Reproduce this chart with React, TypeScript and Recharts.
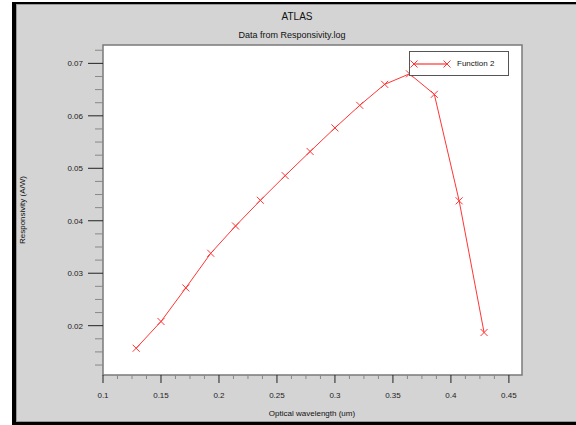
import { Legend, Line, LineChart, ReferenceArea, XAxis, YAxis } from 'recharts'

const wavelength = [0.1286, 0.15, 0.1714, 0.1929, 0.2143, 0.2357, 0.2571, 0.2786, 0.3, 0.3214, 0.3429, 0.3643, 0.3857, 0.4071, 0.4286]
const responsivity = [0.0157, 0.0208, 0.0272, 0.0338, 0.039, 0.0439, 0.0486, 0.0532, 0.0577, 0.062, 0.066, 0.068, 0.0641, 0.0438, 0.0187]

const xMajor = [0.1, 0.15, 0.2, 0.25, 0.3, 0.35, 0.4, 0.45]
const xMinor = [0.1125, 0.125, 0.1375, 0.1625, 0.175, 0.1875, 0.2125, 0.225, 0.2375, 0.2625, 0.275, 0.2875, 0.3125, 0.325, 0.3375, 0.3625, 0.375, 0.3875, 0.4125, 0.425, 0.4375]
const yMajor = [0.02, 0.03, 0.04, 0.05, 0.06, 0.07]
const yMinor = [0.0125, 0.015, 0.0175, 0.0225, 0.025, 0.0275, 0.0325, 0.035, 0.0375, 0.0425, 0.045, 0.0475, 0.0525, 0.055, 0.0575, 0.0625, 0.065, 0.0675, 0.0725]

const xDomain: [number, number] = [0.1, 0.4613]
const yDomain: [number, number] = [0.0106, 0.0735]

const data = wavelength.map((x, i) => ({ x, y: responsivity[i] }))

const FONT = '"Liberation Sans", Arial, sans-serif'
const RED = '#ff3535'

const isMajor = (v: number, majors: number[]) => majors.some((m) => Math.abs(m - v) < 1e-6)

function Cross({ cx, cy, size = 3.5 }: { cx: number; cy: number; size?: number }) {
  return (
    <path
      d={`M${cx - size},${cy - size}L${cx + size},${cy + size}M${cx - size},${cy + size}L${cx + size},${cy - size}`}
      stroke={RED}
      strokeWidth={1}
      fill="none"
    />
  )
}

function XTick({ x, y, payload }: any) {
  const major = isMajor(payload.value, xMajor)
  return (
    <g>
      <line x1={x} x2={x} y1={y} y2={y + (major ? 8 : 4)} stroke={major ? '#222' : '#888'} />
      {major && (
        <text x={x} y={y + 23} textAnchor="middle" fontSize={8} fontFamily={FONT} fill="#222">
          {String(payload.value)}
        </text>
      )}
    </g>
  )
}

function YTick({ x, y, payload }: any) {
  const major = isMajor(payload.value, yMajor)
  return (
    <g>
      <line x1={x - (major ? 15 : 8)} x2={x} y1={y} y2={y} stroke={major ? '#222' : '#888'} />
      {major && (
        <text x={x - 20} y={y + 3} textAnchor="end" fontSize={8} fontFamily={FONT} fill="#222">
          {payload.value.toFixed(2)}
        </text>
      )}
    </g>
  )
}

function LegendBox() {
  return (
    <div
      style={{
        width: 100,
        height: 25,
        boxSizing: 'border-box',
        border: '1px solid #555',
        background: '#fff',
        position: 'relative',
        fontFamily: FONT,
        fontSize: 8,
        color: '#111',
      }}
    >
      <svg width={44} height={23} style={{ position: 'absolute', left: 0, top: 0 }}>
        <line x1={4} x2={37} y1={12} y2={12} stroke={RED} strokeWidth={2} opacity={0.6} />
        <Cross cx={4} cy={12} />
        <Cross cx={37} cy={12} />
      </svg>
      <span style={{ position: 'absolute', left: 47, top: 7, lineHeight: '9px', whiteSpace: 'nowrap' }}>Function 2</span>
    </div>
  )
}

export default function App() {
  return (
    <div style={{ position: 'absolute', left: 0, top: 0, width: 576, height: 425, background: '#fff', overflow: 'hidden' }}>
      <div
        style={{
          position: 'absolute',
          left: 12,
          top: 2,
          width: 564,
          height: 423,
          boxSizing: 'border-box',
          background: '#d4d4d4',
          borderLeft: '4px solid #000',
          borderTop: '2px solid #000',
          borderBottom: '3px solid #000',
          boxShadow: 'inset 1px 1px 0 #999, inset 0 -1px 0 #999',
        }}
      />
      <div style={{ position: 'absolute', left: 0, top: 0 }}>
        <LineChart width={576} height={425} data={data} margin={{ top: 45, right: 54, bottom: 0, left: 0 }}>
          <XAxis
            type="number"
            dataKey="x"
            domain={xDomain}
            allowDataOverflow
            ticks={[...xMajor, ...xMinor].sort((a, b) => a - b)}
            interval={0}
            tickSize={0}
            tickMargin={0}
            tickLine={false}
            axisLine={false}
            tick={XTick}
            height={50}
          />
          <YAxis
            type="number"
            domain={yDomain}
            allowDataOverflow
            ticks={[...yMajor, ...yMinor].sort((a, b) => a - b)}
            interval={0}
            tickSize={0}
            tickMargin={0}
            tickLine={false}
            axisLine={false}
            tick={YTick}
            width={103}
          />
          <ReferenceArea x1={xDomain[0]} x2={xDomain[1]} y1={yDomain[0]} y2={yDomain[1]} fill="#fff" fillOpacity={1} stroke="#7a7a7a" strokeWidth={1.5} />
          <Line
            type="linear"
            dataKey="y"
            name="Function 2"
            stroke={RED}
            strokeWidth={1}
            dot={(p: any) => <Cross key={p.index} cx={p.cx} cy={p.cy} />}
            isAnimationActive={false}
          />
          <Legend
            layout="vertical"
            align="center"
            verticalAlign="middle"
            content={() => <LegendBox />}
            wrapperStyle={{ left: 409, top: 51, width: 100, height: 25 }}
          />
        </LineChart>
      </div>
      <div style={{ position: 'absolute', left: 197, width: 200, top: 11, textAlign: 'center', fontFamily: FONT, fontSize: 10, lineHeight: '12px', color: '#111' }}>
        ATLAS
      </div>
      <div style={{ position: 'absolute', left: 192, width: 200, top: 30, textAlign: 'center', fontFamily: FONT, fontSize: 9, lineHeight: '11px', color: '#111' }}>
        Data from Responsivity.log
      </div>
      <div style={{ position: 'absolute', left: 212, width: 200, top: 409, textAlign: 'center', fontFamily: FONT, fontSize: 8, lineHeight: '10px', color: '#111' }}>
        Optical wavelength (um)
      </div>
      <div
        style={{
          position: 'absolute',
          left: 23 - 60,
          width: 120,
          top: 210 - 5,
          textAlign: 'center',
          fontFamily: FONT,
          fontSize: 8,
          lineHeight: '10px',
          color: '#111',
          transform: 'rotate(-90deg)',
        }}
      >
        Responsivity (A/W)
      </div>
    </div>
  )
}
